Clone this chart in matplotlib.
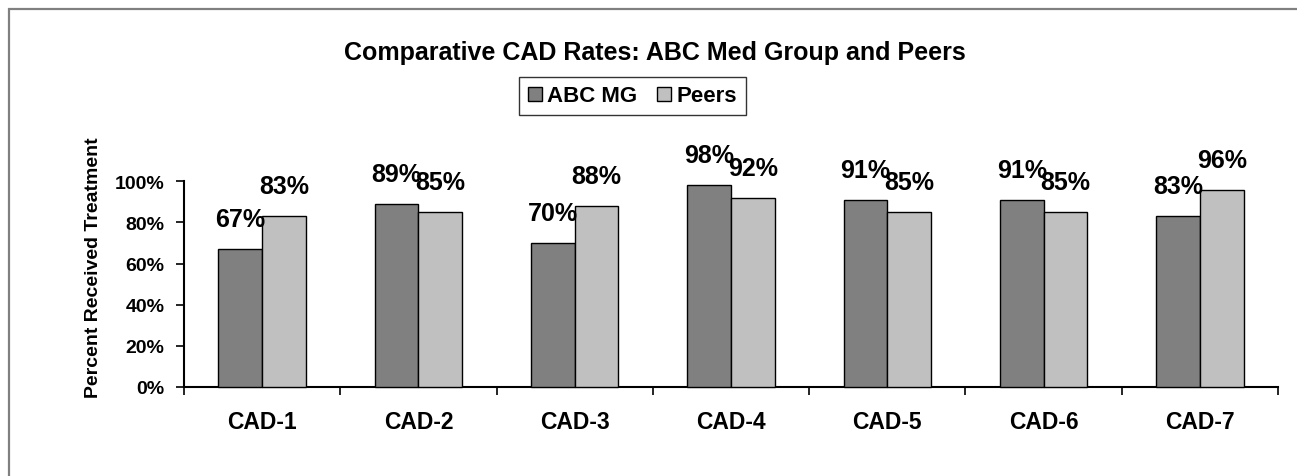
import matplotlib
matplotlib.use("Agg")
import matplotlib.pyplot as plt
from matplotlib.patches import Rectangle, Patch
import numpy as np

categories = ["CAD-1", "CAD-2", "CAD-3", "CAD-4", "CAD-5", "CAD-6", "CAD-7"]
abc_mg = [67, 89, 70, 98, 91, 91, 83]
peers = [83, 85, 88, 92, 85, 85, 96]
series_names = ["ABC MG", "Peers"]
yticks = [0, 20, 40, 60, 80, 100]
ytick_labels = ["0%", "20%", "40%", "60%", "80%", "100%"]
title = "Comparative CAD Rates: ABC Med Group and Peers"
ylabel = "Percent Received Treatment"

plt.rcParams['font.family'] = ['Liberation Sans', 'DejaVu Sans']
plt.rcParams['font.weight'] = 'bold'

W, H = 1297, 477
fig = plt.figure(figsize=(W / 100, H / 100), dpi=100)
fig.patch.set_facecolor("white")

# outer chart frame (partially cropped)
fig.add_artist(Rectangle((8.7 / W, -0.1), 1.2, 1.1 - 9.5 / H, transform=fig.transFigure,
                         fill=False, edgecolor="#808080", linewidth=1.6))

ax = fig.add_axes([184 / W, 1 - 388 / H, (1278 - 184) / W, (388 - 182.3) / H])
x = np.arange(len(categories))
bw = 0.28
c_abc = "#808080"
c_peer = "#C0C0C0"
b1 = ax.bar(x - bw / 2, abc_mg, bw, color=c_abc, edgecolor="black", linewidth=1.0, clip_on=False, zorder=3)
b2 = ax.bar(x + bw / 2, peers, bw, color=c_peer, edgecolor="black", linewidth=1.0, clip_on=False, zorder=3)

for bars, vals in ((b1, abc_mg), (b2, peers)):
    for rect, v in zip(bars, vals):
        ax.annotate(f"{v}%", (rect.get_x() + rect.get_width() / 2, v),
                    xytext=(0, 16.5), textcoords="offset points",
                    ha="center", va="baseline", fontsize=18, fontweight="bold",
                    annotation_clip=False)

ax.set_xlim(-0.5, len(categories) - 0.5)
ax.set_ylim(0, 100)
ax.set_yticks(yticks)
ax.set_yticklabels(ytick_labels)
ax.set_xticks(x)
ax.set_xticklabels(categories)
ax.set_xticks(np.arange(len(categories) + 1) - 0.5, minor=True)
ax.tick_params(axis="x", which="major", length=0, pad=16.5, labelsize=16.5)
ax.tick_params(axis="x", which="minor", length=6, width=1.2, direction="out")
ax.tick_params(axis="y", length=6, width=1.2, direction="out", pad=8, labelsize=14)
for lab in ax.get_xticklabels() + ax.get_yticklabels():
    lab.set_fontweight("bold")

for s in ("top", "right"):
    ax.spines[s].set_visible(False)
for s in ("left", "bottom"):
    ax.spines[s].set_linewidth(1.5)

fig.text(93 / W, 1 - 268 / H, ylabel, rotation=90, ha="center", va="center",
         fontsize=14, fontweight="bold")

fig.text(655 / W, 1 - 53 / H, title, ha="center", va="center", fontsize=18, fontweight="bold")

handles = [Patch(facecolor=c_abc, edgecolor="black", linewidth=1.0),
           Patch(facecolor=c_peer, edgecolor="black", linewidth=1.0)]
leg = fig.legend(handles, series_names, loc="center", bbox_to_anchor=(632.5 / W, 1 - 97 / H),
                 ncol=2, frameon=True, fancybox=False, shadow=False,
                 prop={"size": 16, "weight": "bold"}, handlelength=0.6, handleheight=0.6,
                 handletextpad=0.25, columnspacing=0.9, borderpad=0.4, borderaxespad=0)
leg.get_frame().set_edgecolor("black")
leg.get_frame().set_linewidth(1.0)

fig.savefig("out.png", dpi=100, facecolor="white")
